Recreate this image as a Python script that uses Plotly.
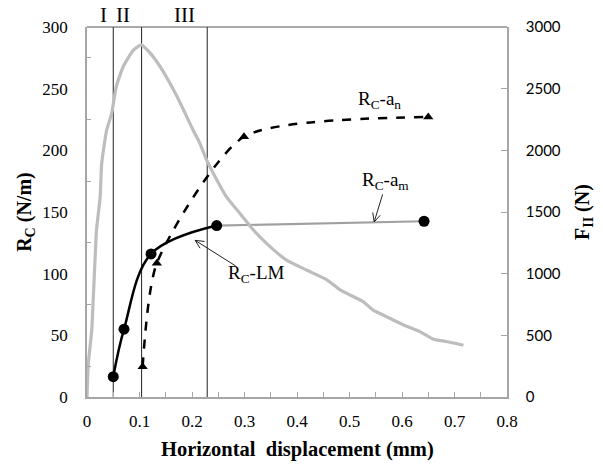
import math
import plotly.graph_objects as go

# Force curve F_II (N) vs horizontal displacement (mm)
f_x = [0, 0.0025, 0.009, 0.012, 0.015, 0.018, 0.025, 0.028, 0.0375, 0.047, 0.056, 0.069,
       0.088, 0.103, 0.12, 0.139, 0.171, 0.202, 0.215, 0.228, 0.241, 0.266, 0.291, 0.317,
       0.342, 0.38, 0.418, 0.457, 0.482, 0.501, 0.526, 0.545, 0.571, 0.603, 0.634, 0.66,
       0.685, 0.717]
f_n = [0, 270, 540, 810, 1085, 1350, 1620, 1895, 2165, 2300, 2520, 2680,
       2810, 2855, 2790, 2680, 2440, 2165, 2057, 1920, 1810, 1620, 1490, 1354,
       1246, 1110, 1030, 950, 868, 827, 773, 705, 650, 584, 530, 468,
       450, 420]

# R_C-LM (N/m)
lm_x = [0.05, 0.0705, 0.122, 0.247]
lm_y = [16.5, 55, 116, 139]

# R_C-a_m (N/m)
am_x = [0.247, 0.642]
am_y = [139, 142.5]

# R_C-a_n (N/m)
an_x = [0.106, 0.133, 0.299, 0.650]
an_y = [24.6, 108.5, 211, 227]

# Stage boundaries (mm) and labels
stage_x = [0.05, 0.104, 0.229]
stage_lbl = ["I", "II", "III"]
stage_lbl_x = [0.032, 0.069, 0.185]

x_ticks = [0, 0.1, 0.2, 0.3, 0.4, 0.5, 0.6, 0.7, 0.8]
x_tick_text = ["0", "0.1", "0.2", "0.3", "0.4", "0.5", "0.6", "0.7", "0.8"]

serif = "Liberation Serif, Times New Roman, serif"
axis_grey = "#a6a6a6"

W, H = 603, 465
ML, MR, MT, MB = 87, 96, 27, 68
PW, PH = W - ML - MR, H - MT - MB
XR, YR = 0.8, 300.0

fig = go.Figure()

fig.add_trace(go.Scatter(x=f_x, y=f_n, mode="lines", yaxis="y2",
                         line=dict(color="#bdbdbd", width=3.2, shape="spline", smoothing=0.5),
                         showlegend=False))

for xv in stage_x:
    fig.add_trace(go.Scatter(x=[xv, xv], y=[0, 300], mode="lines",
                             line=dict(color="#222222", width=1), showlegend=False))

fig.add_trace(go.Scatter(x=am_x, y=am_y, mode="lines",
                         line=dict(color="#a0a0a0", width=2.2), showlegend=False))
fig.add_trace(go.Scatter(x=[am_x[-1]], y=[am_y[-1]], mode="markers",
                         marker=dict(color="black", size=11, symbol="circle"), showlegend=False))

fig.add_trace(go.Scatter(x=lm_x, y=lm_y, mode="lines+markers",
                         line=dict(color="black", width=2.5, shape="spline", smoothing=1.0),
                         marker=dict(color="black", size=11, symbol="circle"), showlegend=False))

fig.add_trace(go.Scatter(x=an_x, y=an_y, mode="lines+markers",
                         line=dict(color="black", width=2.5, dash="dash", shape="spline", smoothing=0.65),
                         marker=dict(color="black", size=9, symbol="triangle-up"), showlegend=False))

anns = []
for xl, t in zip(stage_lbl_x, stage_lbl):
    anns.append(dict(x=xl, y=1.0, xref="x", yref="paper", yshift=12, yanchor="middle",
                     xanchor="center", text=t, showarrow=False,
                     font=dict(family=serif, size=21, color="black")))

lab_font = dict(family=serif, size=19, color="black")
anns.append(dict(x=0.558, y=241, xref="x", yref="y", xanchor="center", yanchor="middle",
                 text="R<sub>C</sub>-a<sub>n</sub>", showarrow=False, font=lab_font))
anns.append(dict(x=0.5695, y=175, xref="x", yref="y", xanchor="center", yanchor="middle",
                 text="R<sub>C</sub>-a<sub>m</sub>", showarrow=False, font=lab_font))
anns.append(dict(x=0.322, y=100, xref="x", yref="y", xanchor="center", yanchor="middle",
                 text="R<sub>C</sub>-LM", showarrow=False, font=lab_font))


def open_arrow(tip, tail):
    """Thin line arrow with an open V head (pixel offsets for the head)."""
    out = [dict(x=tip[0], y=tip[1], xref="x", yref="y", ax=tail[0], ay=tail[1],
                axref="x", ayref="y", text="", showarrow=True, arrowhead=0,
                arrowwidth=1, arrowcolor="#222222", standoff=0)]
    dx = (tail[0] - tip[0]) * PW / XR
    dy = -(tail[1] - tip[1]) * PH / YR
    n = math.hypot(dx, dy)
    ux, uy = dx / n, dy / n
    for a in (0.45, -0.45):
        rx = ux * math.cos(a) - uy * math.sin(a)
        ry = ux * math.sin(a) + uy * math.cos(a)
        out.append(dict(x=tip[0], y=tip[1], xref="x", yref="y", ax=rx * 11, ay=ry * 11,
                        text="", showarrow=True, arrowhead=0, arrowwidth=1,
                        arrowcolor="#222222", standoff=0))
    return out


anns += open_arrow((0.547, 142), (0.564, 165.5))
anns += open_arrow((0.206, 127), (0.286, 105.5))

# axis titles
anns.append(dict(x=0.5, y=-0.143, xref="paper", yref="paper", xanchor="center", yanchor="middle",
                 text="<b>Horizontal  displacement (mm)</b>", showarrow=False,
                 font=dict(family=serif, size=20.5, color="black")))
anns.append(dict(x=-0.148, y=0.5, xref="paper", yref="paper", xanchor="center", yanchor="middle",
                 textangle=-90, text="<b>R<sub>C</sub> (N/m)</b>", showarrow=False,
                 font=dict(family=serif, size=20, color="black")))
anns.append(dict(x=1.181, y=0.5, xref="paper", yref="paper", xanchor="center", yanchor="middle",
                 textangle=-90, text="<b>F<sub>II</sub> (N)</b>", showarrow=False,
                 font=dict(family=serif, size=20, color="black")))

fig.update_layout(
    width=W, height=H,
    margin=dict(l=ML, r=MR, t=MT, b=MB),
    paper_bgcolor="white", plot_bgcolor="white",
    annotations=anns,
    shapes=[dict(type="line", xref="paper", yref="paper", x0=0, x1=1, y0=1, y1=1,
                 line=dict(color="#555555", width=1))],
    xaxis=dict(range=[0, XR], tickvals=x_ticks, ticktext=x_tick_text, showgrid=False,
               zeroline=False, showline=True, linecolor=axis_grey, linewidth=1.5,
               ticks="inside", ticklen=5, tickcolor=axis_grey,
               minor=dict(dtick=0.05, ticks="inside", ticklen=5, tickcolor=axis_grey),
               tickfont=dict(family=serif, size=17, color="black"), ticklabelstandoff=8),
    yaxis=dict(range=[0, YR], dtick=50, showgrid=False, zeroline=False,
               showline=True, linecolor=axis_grey, linewidth=1.5,
               ticks="", minor=dict(dtick=25, ticks="inside", ticklen=4, tickcolor=axis_grey),
               tickfont=dict(family=serif, size=17, color="black"), ticklabelstandoff=14),
    yaxis2=dict(range=[0, 3000], dtick=500, overlaying="y", side="right", showgrid=False,
                zeroline=False, showline=True, linecolor=axis_grey, linewidth=1.5,
                ticks="inside", ticklen=6, tickcolor=axis_grey,
                tickfont=dict(family="Lato, Open Sans, sans-serif", size=15, color="black"),
                ticklabelstandoff=14),
)

fig.write_html("out.html")
